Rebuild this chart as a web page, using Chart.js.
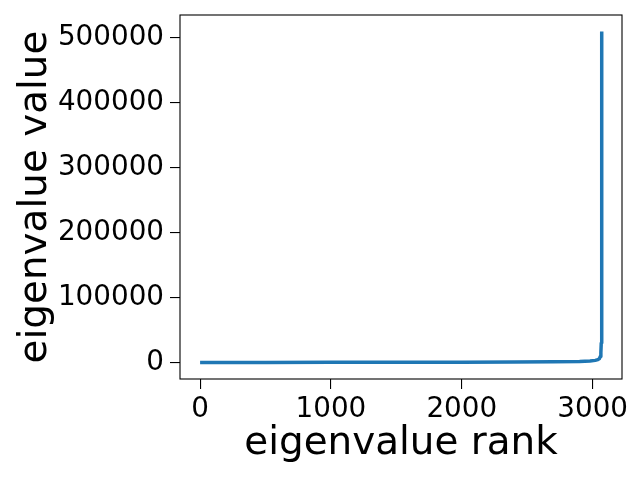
<!DOCTYPE html>
<html lang="en">
<head>
  <meta charset="UTF-8">
  <title>Eigenvalue spectrum</title>
  <script src="https://cdn.jsdelivr.net/npm/chart.js"></script>
  <style>
    html, body { margin: 0; padding: 0; background: #fff; }
    #chartContainer { width: 640px; height: 480px; }
  </style>
</head>
<body>
<div id="chartContainer">
  <canvas id="eigChart"></canvas>
</div>

<script>
// values (sorted eigenvalues, ascending)
const ranks  = [0, 500, 1000, 1500, 2000, 2400, 2700, 2900, 2980, 3020, 3040, 3052, 3058, 3063, 3066, 3068, 3069, 3070, 3071];
const values = [0, 60, 150, 250, 400, 650, 1000, 1500, 2200, 3200, 4300, 6000, 9000, 15000, 30000, 70000, 150000, 300000, 510000];

const xTicks = [0, 1000, 2000, 3000];
const yTicks = [0, 100000, 200000, 300000, 400000, 500000];

const points = ranks.map((r, i) => ({ x: r, y: values[i] }));

// the box around the plot, like a matplotlib frame
const frame = {
  id: 'frame',
  afterDraw(chart) {
    const a = chart.chartArea;
    const ctx = chart.ctx;
    ctx.save();
    ctx.strokeStyle = '#000';
    ctx.lineWidth = 1.1;
    ctx.strokeRect(a.left, a.top, a.right - a.left, a.bottom - a.top);
    ctx.restore();
  }
};

const ctx = document.getElementById('eigChart').getContext('2d');
new Chart(ctx, {
  type: 'line',
  data: {
    datasets: [{
      data: points,
      borderColor: '#1f77b4',
      borderWidth: 3.5,
      borderJoinStyle: 'round',
      borderCapStyle: 'butt',
      pointRadius: 0,
      fill: false,
      tension: 0
    }]
  },
  options: {
    responsive: true,
    maintainAspectRatio: false,
    animation: false,
    layout: { padding: { top: 15, right: 18, left: 0, bottom: 0 } },
    plugins: { legend: { display: false }, tooltip: { enabled: false } },
    scales: {
      x: {
        type: 'linear',
        min: -153.5,
        max: 3224.5,
        afterBuildTicks: s => { s.ticks = xTicks.map(v => ({ value: v })); },
        afterFit: s => { s.height = 101; s.paddingLeft = 0; s.paddingRight = 0; },
        grid: { drawOnChartArea: false, drawTicks: true, tickLength: 10, color: '#000', lineWidth: 1.1 },
        border: { display: false },
        ticks: { color: '#000', padding: 4, maxRotation: 0, font: { family: 'DejaVu Sans', size: 27.8 },
                 callback: v => String(v) },
        title: { display: true, text: 'eigenvalue rank', color: '#000',
                 font: { family: 'DejaVu Sans', size: 38.9, lineHeight: 1 }, padding: { top: 0, bottom: 17 } }
      },
      y: {
        min: -25500,
        max: 535500,
        afterBuildTicks: s => { s.ticks = yTicks.map(v => ({ value: v })); },
        afterFit: s => { s.width = 180; s.paddingTop = 0; s.paddingBottom = 0; },
        grid: { drawOnChartArea: false, drawTicks: true, tickLength: 10, color: '#000', lineWidth: 1.1 },
        border: { display: false },
        ticks: { color: '#000', padding: 6, font: { family: 'DejaVu Sans', size: 27.8 },
                 callback: v => String(v) },
        title: { display: true, text: 'eigenvalue value', color: '#000',
                 font: { family: 'DejaVu Sans', size: 38.9, lineHeight: 1 }, padding: { top: 16, bottom: 0 } }
      }
    }
  },
  plugins: [frame]
});
</script>
</body>
</html>
